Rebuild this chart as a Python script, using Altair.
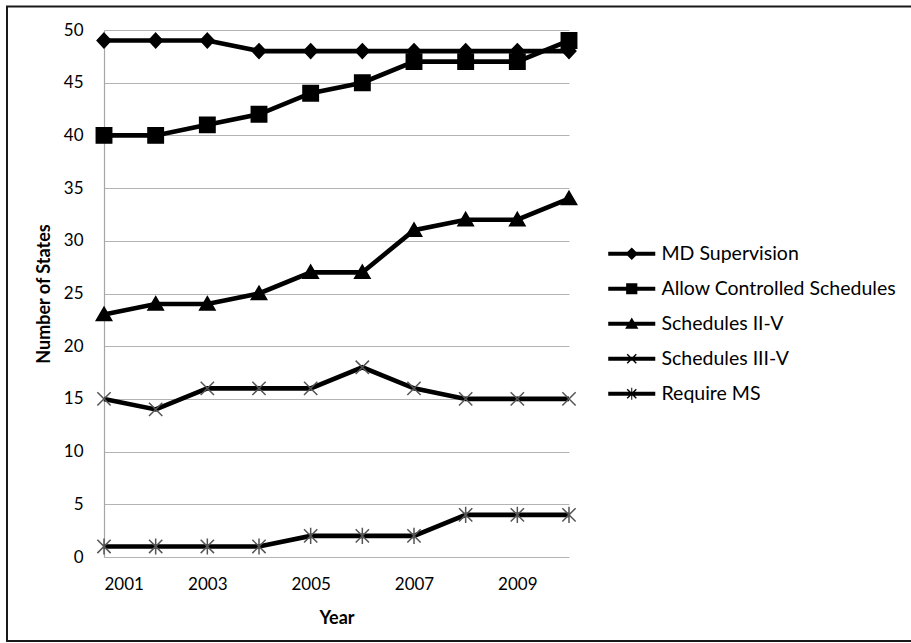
import altair as alt
import pandas as pd

years = [2001, 2002, 2003, 2004, 2005, 2006, 2007, 2008, 2009, 2010]
series_names = ["MD Supervision", "Allow Controlled Schedules", "Schedules II-V",
                "Schedules III-V", "Require MS"]
md_supervision = [49, 49, 49, 48, 48, 48, 48, 48, 48, 48]
allow_controlled = [40, 40, 41, 42, 44, 45, 47, 47, 47, 49]
schedules_2_5 = [23, 24, 24, 25, 27, 27, 31, 32, 32, 34]
schedules_3_5 = [15, 14, 16, 16, 16, 18, 16, 15, 15, 15]
require_ms = [1, 1, 1, 1, 2, 2, 2, 4, 4, 4]
y_ticks = [0, 5, 10, 15, 20, 25, 30, 35, 40, 45, 50]
x_ticks = [2001, 2003, 2005, 2007, 2009]

all_values = [md_supervision, allow_controlled, schedules_2_5, schedules_3_5, require_ms]
rows = []
for name, vals in zip(series_names, all_values):
    for yr, v in zip(years, vals):
        rows.append({"year": yr, "series": name, "states": v})
df = pd.DataFrame(rows)

FONT = "Lato"

# marker shapes on the plot (custom paths, unit = sqrt(size)/2)
plot_shapes = [
    "M0,-1.05L0.98,0L0,1.05L-0.98,0Z",
    "M-1.1,-1.1L1.1,-1.1L1.1,1.1L-1.1,1.1Z",
    "M0,-1.05L1.1,0.85L-1.1,0.85Z",
    "M-0.95,-0.95L0.95,0.95M-0.95,0.95L0.95,-0.95",
    "M-0.95,-0.95L0.95,0.95M-0.95,0.95L0.95,-0.95M0,-1.15L0,1.15",
]
# legend symbols: a line with the marker in the middle (all filled, same winding)
bar = "M-3.36,-0.27L3.36,-0.27L3.36,0.27L-3.36,0.27Z"
x_arms = ("M-0.58,-0.72L0.72,0.58L0.58,0.72L-0.72,-0.58Z"
          "M-0.72,0.58L0.58,-0.72L0.72,-0.58L-0.58,0.72Z")
legend_shapes = [
    bar + "M0,-0.9L0.9,0L0,0.9L-0.9,0Z",
    bar + "M-0.8,-0.8L0.8,-0.8L0.8,0.8L-0.8,0.8Z",
    bar + "M0,-0.9L0.95,0.7L-0.95,0.7Z",
    bar + x_arms,
    bar + x_arms + "M-0.07,-0.85L0.07,-0.85L0.07,0.85L-0.07,0.85Z",
]

x_enc = alt.X("year:Q", scale=alt.Scale(domain=[2001, 2010], nice=False, zero=False),
              axis=alt.Axis(values=x_ticks, format="d", title="Year", grid=False,
                            ticks=False, domain=False, labelPadding=19, titlePadding=17,
                            labelFontSize=17, titleFontSize=18, titleFontWeight="bold",
                            labelColor="#000", titleColor="#000", labelFont=FONT, titleFont=FONT))
y_enc = alt.Y("states:Q", scale=alt.Scale(domain=[0, 50], nice=False),
              axis=alt.Axis(values=y_ticks, title="Number of States", grid=True,
                            gridColor="#b3b3b3", gridWidth=1.2, ticks=False,
                            domain=True, domainColor="#a6a6a6", domainWidth=1.2,
                            labelPadding=21, titlePadding=10, labelFontSize=17,
                            titleFontSize=18, titleFontWeight="bold",
                            labelColor="#000", titleColor="#000", labelFont=FONT, titleFont=FONT))

base = alt.Chart(df)

lines = base.mark_line(color="black", strokeWidth=4.6).encode(
    x=x_enc, y=y_enc, detail="series:N"
)

points = base.mark_point(filled=True, fill="black", size=196, strokeWidth=1.5, opacity=1).encode(
    x="year:Q", y="states:Q",
    shape=alt.Shape("series:N", scale=alt.Scale(domain=series_names, range=plot_shapes), legend=None),
    stroke=alt.Stroke("series:N", scale=alt.Scale(domain=series_names,
                      range=["black", "black", "black", "#555555", "#555555"]), legend=None),
)

legend_layer = base.transform_filter("datum.states < -100").mark_point(
    filled=True, fill="black", stroke="black", strokeWidth=0.5, size=196, opacity=1
).encode(
    x="year:Q", y="states:Q",
    shape=alt.Shape("series:N", scale=alt.Scale(domain=series_names, range=legend_shapes),
                    legend=alt.Legend(title=None, orient="none", legendX=518, legendY=214,
                                      labelFontSize=19.5, labelFont=FONT, labelColor="#000",
                                      labelOffset=20, rowPadding=14, symbolSize=196,
                                      symbolFillColor="black", symbolStrokeColor="black",
                                      symbolStrokeWidth=0.5, symbolOpacity=1, labelLimit=400)),
)

frame = alt.Chart(pd.DataFrame({"a": [0]})).mark_rect(
    fill=None, stroke="#1a1a1a", strokeWidth=2
).encode(x=alt.value(-97), x2=alt.value(809), y=alt.value(-23.5), y2=alt.value(611))

chart = alt.layer(lines, points, legend_layer, frame).resolve_scale(
    shape="independent", stroke="independent"
).properties(
    width=465, height=527,
    autosize=alt.AutoSizeParams(type="none"),
    padding={"left": 104, "top": 30, "right": 342, "bottom": 86},
    background="white",
).configure_view(stroke=None)

chart.save("out.html", embed_options={"renderer": "svg", "actions": False})
